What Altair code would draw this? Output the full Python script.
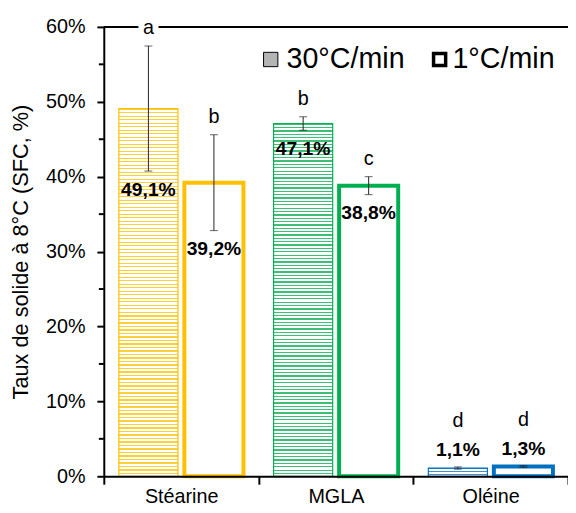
import altair as alt
import pandas as pd

# ---- data ----
categories = ["Stéarine", "MGLA", "Oléine"]
series = ["30°C/min", "1°C/min"]
values_30 = [0.491, 0.471, 0.011]
values_1 = [0.392, 0.388, 0.013]
sd_30 = [0.0835, 0.009, 0.0015]
sd_1 = [0.064, 0.012, 0.001]
letters_30 = ["a", "b", "d"]
letters_1 = ["b", "c", "d"]
y_ticks = [0, 0.1, 0.2, 0.3, 0.4, 0.5, 0.6]
minor_ticks = [0.05, 0.15, 0.25, 0.35, 0.45, 0.55]

# ---- styles ----
colors = ["#FFC000", "#00B050", "#0070C0"]
stripe_colors = ["#FFCF3A", "#3DBF78", "#3F8FD2"]
FONT = "Liberation Sans"
W, H = 470, 455

rows = []
for i, c in enumerate(categories):
    rows.append(dict(category=c, series=series[0], value=values_30[i], sd=sd_30[i], letter=letters_30[i]))
    rows.append(dict(category=c, series=series[1], value=values_1[i], sd=sd_1[i], letter=letters_1[i]))
df = pd.DataFrame(rows)


def stripes(color, n, frac=0.38):
    stops = []
    for k in range(n):
        a = k / n
        b = (k + frac) / n
        c = (k + 1) / n
        stops += [
            {"offset": a, "color": color},
            {"offset": b, "color": color},
            {"offset": b, "color": "#ffffff"},
            {"offset": c, "color": "#ffffff"},
        ]
    return {"gradient": "linear", "x1": 0, "y1": 0, "x2": 0, "y2": 1, "stops": stops}


x_enc = alt.X(
    "category:N",
    sort=categories,
    scale=alt.Scale(domain=categories, paddingInner=0, paddingOuter=0),
    axis=alt.Axis(
        title=None, labelAngle=0, labelFont=FONT, labelFontSize=20, labelColor="#000000",
        tickBand="extent", tickSize=8, tickWidth=2, tickColor="#000000",
        domainColor="#000000", domainWidth=2, labelPadding=3, zindex=1,
    ),
)
xo_enc = alt.XOffset(
    "series:N", sort=series,
    scale=alt.Scale(domain=series, paddingInner=0.098, paddingOuter=0.23),
)
y_scale = alt.Scale(domain=[0, 0.6], nice=False)
y_enc = alt.Y(
    "value:Q",
    scale=y_scale,
    axis=alt.Axis(
        values=y_ticks, format=".0%", grid=False,
        labelFont=FONT, labelFontSize=20, labelColor="#000000", labelPadding=12,
        tickSize=7, tickWidth=2, tickColor="#000000",
        domainColor="#000000", domainWidth=2, zindex=1,
        title="Taux de solide à 8°C (SFC, %)", titleFont=FONT, titleFontSize=22,
        titleFontWeight="normal", titleColor="#000000", titleAngle=-90,
        titleX=-84, titleY=H / 2, titleBaseline="middle", titleAlign="center",
    ),
)

base = alt.Chart(df).encode(x=x_enc, xOffset=xo_enc)

layers = []
# patterned 30°C/min bars
for i, c in enumerate(categories):
    n = 105 if max(values_30[i], values_1[i]) > 0.1 else 3
    layers.append(
        base.transform_filter(
            (alt.datum.series == series[0]) & (alt.datum.category == c)
        ).mark_bar(fill=stripes(stripe_colors[i], n), stroke=colors[i], strokeWidth=1.2).encode(y=y_enc)
    )

# hollow 1°C/min bars
layers.append(
    base.transform_filter(alt.datum.series == series[1])
    .mark_bar(fill="white", strokeWidth=4)
    .encode(
        y=y_enc,
        stroke=alt.Stroke("category:N", scale=alt.Scale(domain=categories, range=colors), legend=None),
    )
)

err = base.transform_calculate(
    lo="datum.value - datum.sd", hi="datum.value + datum.sd"
)
layers.append(err.mark_rule(color="#222222", strokeWidth=1).encode(
    y=alt.Y("lo:Q", scale=y_scale), y2="hi:Q"))
layers.append(err.mark_tick(color="#222222", size=8, thickness=1).encode(y=alt.Y("lo:Q", scale=y_scale)))
layers.append(err.mark_tick(color="#222222", size=8, thickness=1).encode(y=alt.Y("hi:Q", scale=y_scale)))

# top line at 60%
layers.append(
    alt.Chart(pd.DataFrame({"v": [y_ticks[-1]]})).mark_rule(color="#000000", strokeWidth=2).encode(
        y=alt.Y("v:Q", scale=y_scale)
    )
)
# minor ticks
layers.append(
    alt.Chart(pd.DataFrame({"v": minor_ticks})).mark_rule(color="#000000", strokeWidth=2).encode(
        y=alt.Y("v:Q", scale=y_scale), x=alt.value(-5), x2=alt.value(0)
    )
)

lab = err.transform_calculate(txt="replace(format(datum.value, '.1%'), '.', ',')")
big = alt.datum.category != categories[2]
small = alt.datum.category == categories[2]

# value labels
layers.append(lab.transform_filter(big).mark_text(
    font=FONT, fontSize=19.5, fontWeight="bold", color="#000000", baseline="middle", dy=19
).encode(y=alt.Y("lo:Q", scale=y_scale), text="txt:N"))
layers.append(lab.transform_filter(small).mark_text(
    font=FONT, fontSize=19.5, fontWeight="bold", color="#000000", baseline="middle", dy=-17
).encode(y=alt.Y("hi:Q", scale=y_scale), text="txt:N"))

# significance letters (white halo then black text)
for halo in (True, False):
    kw = dict(stroke="white", strokeWidth=12, strokeJoin="round") if halo else {}
    layers.append(err.transform_filter(big).mark_text(
        font=FONT, fontSize=20, color="#000000", baseline="middle", dy=-18, **kw
    ).encode(y=alt.Y("hi:Q", scale=y_scale), text="letter:N"))
    layers.append(err.transform_filter(small).mark_text(
        font=FONT, fontSize=20, color="#000000", baseline="middle", dy=-46, **kw
    ).encode(y=alt.Y("hi:Q", scale=y_scale), text="letter:N"))

# manual legend
leg_y = 33
leg_df = pd.DataFrame({"label": series})
layers.append(alt.Chart(leg_df).transform_filter(alt.datum.label == series[0]).mark_square(
    size=210, fill="#b4b4b4", stroke="#000000", strokeWidth=1, opacity=1
).encode(x=alt.value(169), y=alt.value(leg_y)))
layers.append(alt.Chart(leg_df).transform_filter(alt.datum.label == series[1]).mark_square(
    size=150, fill="#ffffff", stroke="#000000", strokeWidth=3.5, opacity=1
).encode(x=alt.value(340), y=alt.value(leg_y)))
layers.append(alt.Chart(leg_df).transform_filter(alt.datum.label == series[0]).mark_text(
    font=FONT, fontSize=29, color="#000000", align="left", baseline="middle"
).encode(x=alt.value(185), y=alt.value(leg_y), text="label:N"))
layers.append(alt.Chart(leg_df).transform_filter(alt.datum.label == series[1]).mark_text(
    font=FONT, fontSize=29, color="#000000", align="left", baseline="middle"
).encode(x=alt.value(353), y=alt.value(leg_y), text="label:N"))

chart = alt.layer(*layers).properties(
    width=W, height=H,
    autosize=alt.AutoSizeParams(type="none"),
    padding={"left": 97, "top": 16, "right": 0, "bottom": 30},
).configure_view(stroke=None).configure(background="white")

chart.save("out.html", embed_options={"renderer": "svg", "actions": False})
